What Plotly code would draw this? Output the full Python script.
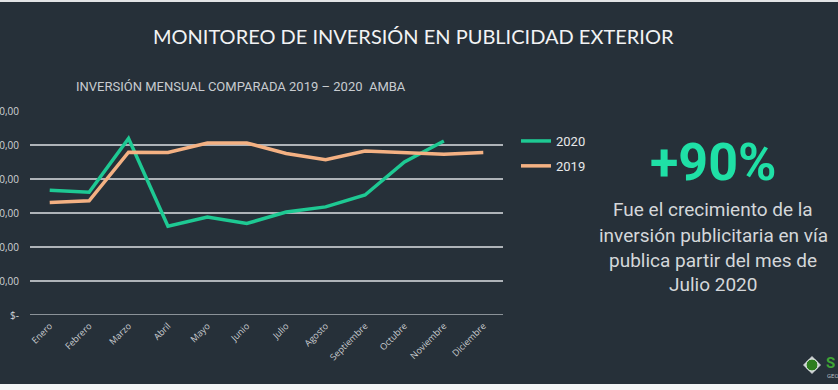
import plotly.graph_objects as go

months = ["Enero", "Febrero", "Marzo", "Abril", "Mayo", "Junio", "Julio",
          "Agosto", "Septiembre", "Octubre", "Noviembre", "Diciembre"]
v2020 = [36.7, 36.1, 51.9, 26.1, 28.8, 26.9, 30.3, 31.8, 35.3, 45.0, 51.2, None]
v2019 = [33.1, 33.6, 47.9, 47.8, 50.6, 50.6, 47.5, 45.7, 48.2, 47.8, 47.3, 47.8]
ytick_vals = [0, 10, 20, 30, 40, 50, 60]
ytick_text = ["$-", "0,00", "0,00", "0,00", "0,00", "0,00", "0,00"]

W, H = 838, 390
L, R, T, B = 30, 335, 111, 75
PW, PH = W - L - R, H - T - B

def px(x):
    return (x - L) / PW

def py(y):
    return (H - B - y) / PH

BG = "#263039"
GREEN = "#1ec993"
ORANGE = "#f4b183"

fig = go.Figure()
fig.add_trace(go.Scatter(x=months, y=v2020, name="2020", mode="lines",
                         line=dict(color=GREEN, width=3.5), legendgroup="a"))
fig.add_trace(go.Scatter(x=months, y=v2019, name="2019", mode="lines",
                         line=dict(color=ORANGE, width=3.5), legendgroup="b"))

fig.update_layout(
    width=W, height=H,
    margin=dict(l=L, r=R, t=T, b=B, autoexpand=False),
    paper_bgcolor=BG, plot_bgcolor=BG,
    showlegend=True,
    legend=dict(x=px(516), y=py(126), xanchor="left", yanchor="top",
                bgcolor="rgba(0,0,0,0)", font=dict(family="Roboto", size=13, color="#e6e8ea"),
                traceorder="grouped", tracegroupgap=5, itemwidth=30),
    xaxis=dict(type="category", range=[-0.5, len(months) - 0.5], showgrid=False,
               zeroline=False, showline=False,
               tickangle=-45, tickfont=dict(family="Open Sans", size=9, color="#c9ccd0"),
               ticks="", automargin=False, ticklabelstandoff=3),
    yaxis=dict(range=[0, 60], tickvals=ytick_vals, ticktext=ytick_text,
               showgrid=True, gridcolor="#aeb3b8", gridwidth=1.5, zeroline=False,
               showline=False, ticks="", ticklabelstandoff=10,
               tickfont=dict(family="Open Sans", size=10, color="#d0d3d6"),
               automargin=False),
    font=dict(family="Open Sans"),
)

fig.add_shape(type="line", xref="paper", yref="y", x0=0, x1=1, y0=0, y1=0,
              line=dict(color="#aeb3b8", width=1.5), layer="below")

anns = [
    dict(text="MONITOREO DE INVERSIÓN EN PUBLICIDAD EXTERIOR", x=413, y=36, size=20,
         family="Lato", color="#f2f3f4"),
    dict(text="INVERSIÓN MENSUAL COMPARADA 2019 – 2020  AMBA", x=241, y=86, size=13,
         family="Roboto", color="#c8ccd0"),
    dict(text="<b>+90%</b>", x=713, y=162, size=52, family="Roboto", color="#1fe0a6"),
    dict(text="Fue el crecimiento de la", x=713, y=209, size=19, family="Roboto", color="#d4d7da"),
    dict(text="inversión publicitaria en vía", x=713, y=235, size=19, family="Roboto", color="#d4d7da"),
    dict(text="publica partir del mes de", x=713, y=260, size=19, family="Roboto", color="#d4d7da"),
    dict(text="Julio 2020", x=713, y=284, size=19, family="Roboto", color="#d4d7da"),
    dict(text="<b>S</b>", x=824, y=363, size=15, family="Roboto", color="#3fa535", xanchor="left"),
    dict(text="GEO", x=825, y=375, size=6, family="Roboto", color="#b8bcc0", xanchor="left"),
]
for a in anns:
    fig.add_annotation(text=a["text"], xref="paper", yref="paper", x=px(a["x"]), y=py(a["y"]),
                       xanchor=a.get("xanchor", "center"), yanchor="middle", showarrow=False,
                       font=dict(family=a["family"], size=a["size"], color=a["color"]))

fig.add_shape(type="path", xref="paper", yref="paper",
              path="M {},{} L {},{} L {},{} L {},{} Z".format(px(803), py(365), px(812), py(356),
                                                            px(821), py(365), px(812), py(374)),
              fillcolor="#c5c8cb", line=dict(width=0))
fig.add_shape(type="circle", xref="paper", yref="paper", x0=px(806), x1=px(818), y0=py(359), y1=py(371),
              fillcolor="#2e7d1f", line=dict(color="#e8ecef", width=1))
fig.add_shape(type="rect", xref="paper", yref="paper", x0=px(0), x1=px(838), y0=py(384), y1=py(390),
              fillcolor="#f4f5f6", line=dict(width=0))
fig.add_shape(type="rect", xref="paper", yref="paper", x0=px(0), x1=px(838), y0=py(0), y1=py(2),
              fillcolor="#e2e4e6", line=dict(width=0))

fig.write_html("out.html", config={"displayModeBar": False},
               post_script="document.body.style.margin='0';document.body.style.overflow='hidden';")
